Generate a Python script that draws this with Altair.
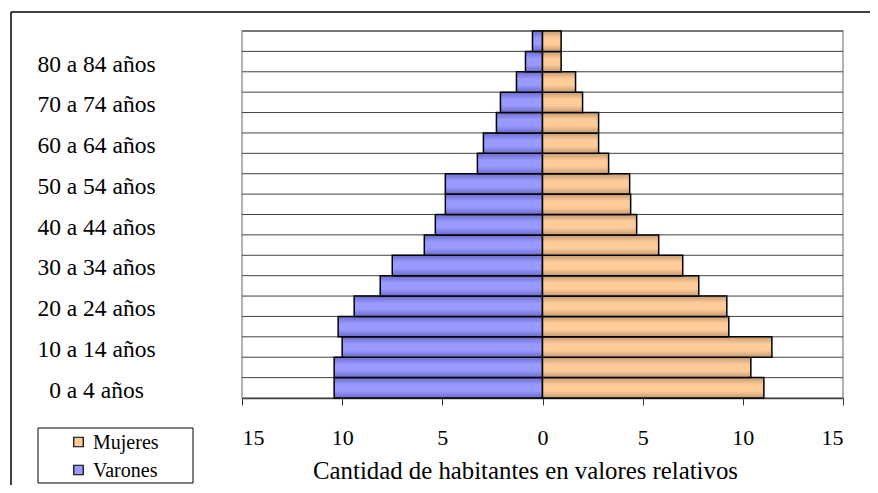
import altair as alt
import pandas as pd

# ---- data (bottom to top) ----
grupos = ["0 a 4 años", "5 a 9 años", "10 a 14 años", "15 a 19 años", "20 a 24 años",
          "25 a 29 años", "30 a 34 años", "35 a 39 años", "40 a 44 años", "45 a 49 años",
          "50 a 54 años", "55 a 59 años", "60 a 64 años", "65 a 69 años", "70 a 74 años",
          "75 a 79 años", "80 a 84 años", "85 años y más"]
varones = [10.4, 10.4, 10.0, 10.2, 9.4, 8.1, 7.5, 5.9, 5.35, 4.85,
           4.85, 3.25, 2.95, 2.3, 2.1, 1.3, 0.85, 0.5]
mujeres = [11.05, 10.4, 11.45, 9.3, 9.2, 7.8, 7.0, 5.8, 4.7, 4.4,
           4.35, 3.3, 2.8, 2.8, 2.0, 1.65, 0.93, 0.93]
series = ["Mujeres", "Varones"]
colores = ["#FFCC99", "#9999FF"]
ticks_x = [-15, -10, -5, 0, 5, 10, 15]
etiquetas_y = grupos[0:17:2]

rows = []
for g, v, m in zip(grupos, varones, mujeres):
    rows.append({"grupo": g, "sexo": "Varones", "valor": v, "signed": -v})
    rows.append({"grupo": g, "sexo": "Mujeres", "valor": m, "signed": m})
df = pd.DataFrame(rows)
df_cat = pd.DataFrame({"grupo": grupos})
one = pd.DataFrame({"k": [0]})

FONT = "Liberation Serif"
orden = grupos[::-1]

W, H = 601, 367
PAD = {"left": 234, "top": 23, "right": 27, "bottom": 87}

yscale = alt.Scale(paddingInner=0, paddingOuter=0)
yaxis = alt.Axis(values=etiquetas_y, ticks=False, domain=False, grid=False, title=None,
                 labelAlign="center", labelPadding=146, labelBaseline="middle",
                 labelOffset=3,
                 labelFont=FONT, labelFontSize=23.5, labelColor="black")

xscale = alt.Scale(domain=[-15, 15], nice=False)
xaxis = alt.Axis(values=ticks_x, labelExpr="abs(datum.value)", grid=False,
                 tickSize=7, tickColor="#333333", tickWidth=1,
                 domainColor="#404040", domainWidth=1.5,
                 labelFont=FONT, labelFontSize=22, labelColor="black",
                 labelBaseline="alphabetic", labelPadding=39,
                 title="Cantidad de habitantes en valores relativos",
                 titleFont=FONT, titleFontSize=24.8, titleFontWeight="normal",
                 titleColor="black", titleX=283, titleY=80,
                 titleAlign="center", titleBaseline="alphabetic")


def grad(edge, mid):
    return alt.Gradient(gradient="linear",
                        stops=[alt.GradientStop(color=edge, offset=0),
                               alt.GradientStop(color=mid, offset=0.35),
                               alt.GradientStop(color=mid, offset=0.65),
                               alt.GradientStop(color=edge, offset=1)],
                        x1=0, x2=0, y1=0, y2=1)


right_edge = W + PAD["right"]
bottom_edge = H + PAD["bottom"]

frame_top = alt.Chart(one).mark_rule(color="black", strokeWidth=1.5).encode(
    x=alt.value(-231), x2=alt.value(right_edge), y=alt.value(-19))
frame_left = alt.Chart(one).mark_rule(color="black", strokeWidth=1.5).encode(
    x=alt.value(-231), y=alt.value(-19), y2=alt.value(bottom_edge))

grid = alt.Chart(df_cat).mark_rule(color="#404040", strokeWidth=1).encode(
    y=alt.Y("grupo:N", sort=orden, bandPosition=0, scale=yscale, axis=yaxis))

bars_v = alt.Chart(df).transform_filter(alt.datum.sexo == "Varones").mark_bar(
    color=grad("#6c6cc8", colores[1]), stroke="black", strokeWidth=1.5).encode(
    y=alt.Y("grupo:N", sort=orden, scale=yscale, axis=yaxis),
    x=alt.X("signed:Q", scale=xscale, axis=xaxis))

bars_m = alt.Chart(df).transform_filter(alt.datum.sexo == "Mujeres").mark_bar(
    color=grad("#c39b73", colores[0]), stroke="black", strokeWidth=1.5).encode(
    y=alt.Y("grupo:N", sort=orden, scale=yscale, axis=yaxis),
    x=alt.X("signed:Q", scale=xscale, axis=xaxis))

# legend (drawn manually)
leg_box = alt.Chart(one).mark_rect(fill="white", stroke="black", strokeWidth=1).encode(
    x=alt.value(-204), x2=alt.value(-49), y=alt.value(397), y2=alt.value(452))

leg_layers = []
for i, (s, c) in enumerate(zip(series, colores)):
    ypos = 411 + 28 * i
    leg_layers.append(
        alt.Chart(pd.DataFrame({"sexo": [s]})).mark_square(
            size=90, color=c, stroke="black", strokeWidth=1.2, opacity=1).encode(
            x=alt.value(-163.5), y=alt.value(ypos)))
    leg_layers.append(
        alt.Chart(pd.DataFrame({"sexo": [s]})).mark_text(
            align="left", baseline="middle", font=FONT, fontSize=20, color="black").encode(
            x=alt.value(-149), y=alt.value(ypos + 1), text="sexo:N"))

chart = alt.layer(frame_top, frame_left, grid, bars_v, bars_m, leg_box, *leg_layers).properties(
    width=W, height=H,
    autosize=alt.AutoSizeParams(type="none"),
    padding=PAD,
    background="white",
).configure_view(stroke="#999999", strokeWidth=1.5)

chart.save("out.html", embed_options={"renderer": "svg", "actions": False})
